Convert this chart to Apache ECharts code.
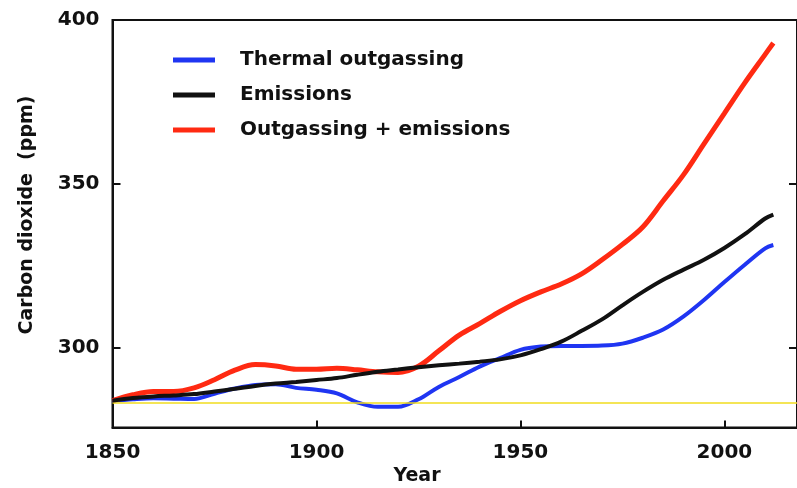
<!DOCTYPE html>
<html>
<head>
<meta charset="utf-8">
<script src="https://cdn.jsdelivr.net/npm/echarts@6/dist/echarts.min.js"></script>
<style>
  html, body { margin: 0; padding: 0; background: #ffffff; }
  #chart { width: 797px; height: 488px; }
</style>
</head>
<body>
<div id="chart"></div>
<script>
// Years sampled along each curve
const years = [1850, 1855, 1860, 1865, 1870, 1875, 1880, 1885, 1890, 1895,
               1900, 1905, 1910, 1915, 1920, 1925, 1930, 1935, 1940, 1945,
               1950, 1955, 1960, 1965, 1970, 1975, 1980, 1985, 1990, 1995,
               2000, 2005, 2010, 2012];

// CO2 (ppm) from thermal outgassing alone
const thermal = [283.7, 284.2, 284.5, 284.4, 284.3, 285.9, 287.5, 288.6, 288.8, 287.7,
                 287.1, 286.0, 283.3, 281.9, 281.9, 284.2, 288.0, 291.0, 294.2, 296.8,
                 299.3, 300.3, 300.5, 300.5, 300.6, 301.2, 303.0, 305.5, 309.5, 314.5,
                 320.0, 325.3, 330.3, 331.3];

// CO2 (ppm) from emissions alone
const emissions = [283.8, 284.6, 285.1, 285.4, 285.8, 286.6, 287.4, 288.3, 289.0, 289.5,
                   290.1, 290.7, 291.7, 292.6, 293.3, 294.0, 294.6, 295.1, 295.7, 296.4,
                   297.6, 299.5, 301.8, 305.1, 308.6, 312.9, 317.0, 320.7, 323.8, 326.8,
                   330.4, 334.6, 339.4, 340.6];

// CO2 (ppm) from outgassing plus emissions
const combined = [283.8, 285.6, 286.6, 286.6, 287.7, 290.2, 293.1, 294.8, 294.4, 293.4,
                  293.4, 293.7, 293.2, 292.6, 292.4, 294.3, 299.0, 303.8, 307.3, 311.0,
                  314.3, 317.0, 319.4, 322.5, 326.8, 331.5, 336.8, 344.8, 352.8, 362.2,
                  371.5, 380.8, 389.5, 393.0];

// Pre-industrial reference level (ppm)
const baseline = 283.2;

const xTicks = [1850, 1900, 1950, 2000];
const yTicks = [300, 350, 400];

const seriesNames = ['Thermal outgassing', 'Emissions', 'Outgassing + emissions'];

const pairs = vals => years.map((y, i) => [y, vals[i]]);

const FONT = '"DejaVu Sans", sans-serif';

const chart = echarts.init(document.getElementById('chart'), null, { renderer: 'canvas' });

chart.setOption({
  backgroundColor: '#ffffff',
  animation: false,
  grid: {
    left: 112.5, top: 20, right: 0, bottom: 60.5,
    show: true, borderColor: '#111111', borderWidth: 2, backgroundColor: 'transparent'
  },
  legend: {
    data: seriesNames,
    orient: 'vertical',
    left: 168, top: 45,
    itemWidth: 42, itemHeight: 5, itemGap: 15,
    icon: 'rect',
    textStyle: {
      fontFamily: FONT, fontWeight: 'bold', fontSize: 20, lineHeight: 20,
      color: '#111111', padding: [0, 0, 0, 20]
    }
  },
  xAxis: {
    type: 'value', min: 1850, max: 2017.8,
    axisLine: { show: true, onZero: false, lineStyle: { color: '#111111', width: 2 } },
    axisTick: { show: true, inside: true, length: 7, lineStyle: { color: '#111111', width: 2 }, customValues: xTicks },
    axisLabel: {
      customValues: xTicks, margin: 15, formatter: v => String(v),
      fontFamily: FONT, fontWeight: 'bold', fontSize: 20, color: '#111111'
    },
    splitLine: { show: false }
  },
  yAxis: [
    {
      type: 'value', min: 275.6, max: 400, position: 'left',
      axisLine: { show: true, lineStyle: { color: '#111111', width: 2 } },
      axisTick: { show: true, inside: true, length: 8, lineStyle: { color: '#111111', width: 2 }, customValues: yTicks },
      axisLabel: {
        customValues: yTicks, margin: 13, formatter: v => String(v),
        fontFamily: FONT, fontWeight: 'bold', fontSize: 20, color: '#111111'
      },
      splitLine: { show: false }
    },
    {
      type: 'value', min: 275.6, max: 400, position: 'right',
      axisLine: { show: true, lineStyle: { color: '#111111', width: 2 } },
      axisTick: { show: true, inside: true, length: 8, lineStyle: { color: '#111111', width: 2 }, customValues: yTicks },
      axisLabel: { show: false },
      splitLine: { show: false }
    }
  ],
  graphic: [
    {
      type: 'text', x: 417, y: 476,
      style: {
        text: 'Year', fontFamily: FONT, fontWeight: 'bold', fontSize: 19,
        fill: '#111111', align: 'center', verticalAlign: 'middle'
      }
    },
    {
      type: 'text',
      x: 27, y: 215, rotation: Math.PI / 2,
      style: {
        text: 'Carbon dioxide  (ppm)', fontFamily: FONT, fontWeight: 'bold', fontSize: 19,
        fill: '#111111', align: 'center', verticalAlign: 'middle'
      }
    }
  ],
  series: [
    {
      name: seriesNames[0], type: 'line', data: pairs(thermal),
      smooth: 0.35, showSymbol: false, z: 3,
      lineStyle: { color: '#1f35f2', width: 4 }, itemStyle: { color: '#1f35f2' },
      markLine: {
        silent: true, symbol: ['none', 'none'], label: { show: false },
        lineStyle: { color: '#f0dc1e', width: 1.5, type: 'solid' },
        data: [{ yAxis: baseline }]
      }
    },
    {
      name: seriesNames[2], type: 'line', data: pairs(combined),
      smooth: 0.35, showSymbol: false, z: 4,
      lineStyle: { color: '#ff2a12', width: 5 }, itemStyle: { color: '#ff2a12' }
    },
    {
      name: seriesNames[1], type: 'line', data: pairs(emissions),
      smooth: 0.35, showSymbol: false, z: 5,
      lineStyle: { color: '#111111', width: 4 }, itemStyle: { color: '#111111' }
    }
  ]
});
</script>
</body>
</html>
